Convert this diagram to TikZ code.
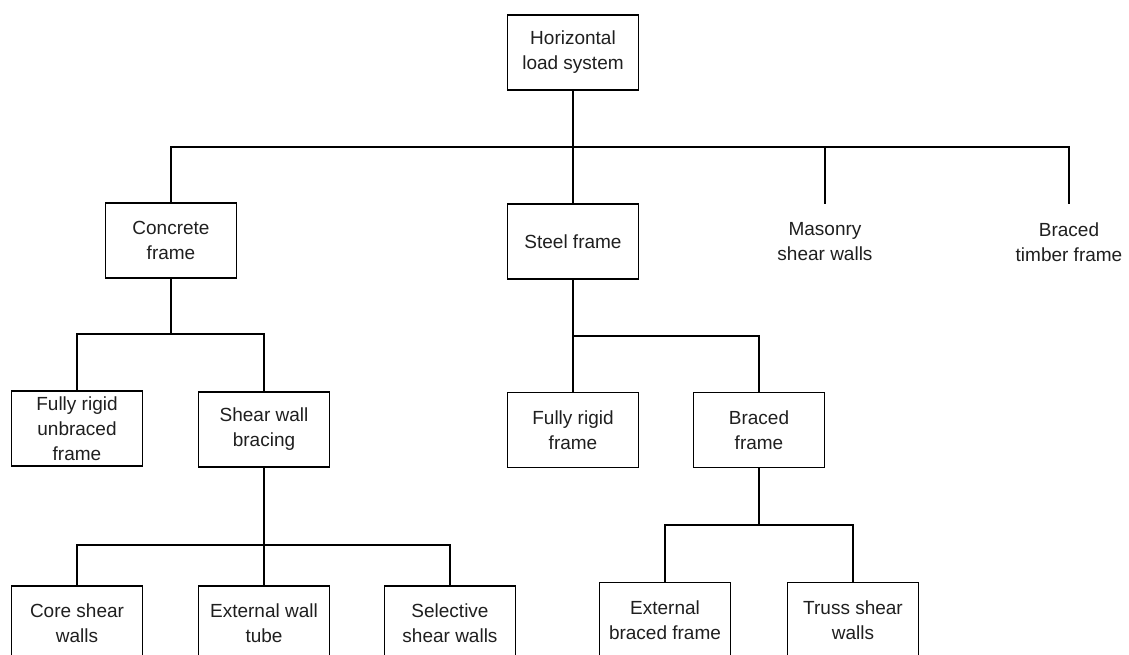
\documentclass[tikz,border=0pt]{standalone}
\usepackage{fontspec}
\setmainfont{Liberation Sans}
\begin{document}
\begin{tikzpicture}[x=1pt,y=-1pt,
  box/.style={draw, line width=1.7pt, minimum width=131pt, minimum height=75pt,
    inner sep=0pt, align=center, text=black!88,
    font=\fontsize{19}{25}\selectfont},
  plain/.style={box, draw=none},
  link/.style={line width=1.7pt}]
\useasboundingbox (0,0) rectangle (1129,654);
\fill[white] (0,0) rectangle (1129,654);
\clip (0,0) rectangle (1129,654);

% level 0
\node[box] (top) at (573,52.5) {Horizontal\\load system};

% level 1
\node[box] (concrete) at (171,240.5) {Concrete\\frame};
\node[box] (steel) at (573,241.5) {Steel frame};
\node[plain] (masonry) at (825,242) {Masonry\\shear walls};
\node[plain] (timber) at (1069,242) {Braced\\timber frame};

% level 2
\node[box] (fru) at (77,428.5) {Fully rigid\\unbraced\\frame};
\node[box] (swb) at (264,429.5) {Shear wall\\bracing};
\node[box] (frf) at (573,430) {Fully rigid\\frame};
\node[box] (bf) at (759,430) {Braced\\frame};

% level 3
\node[box] (core) at (77,623.5) {Core shear\\walls};
\node[box] (ewt) at (264,623.5) {External wall\\tube};
\node[box] (sel) at (450,623.5) {Selective\\shear walls};
\node[box] (ebf) at (665,620) {External\\braced frame};
\node[box] (truss) at (853,620) {Truss shear\\walls};

% bus junctions
\coordinate (b1) at (573,147);
\coordinate (b2) at (171,334);
\coordinate (b3) at (573,336);
\coordinate (b4) at (264,545);
\coordinate (b5) at (759,525);

% connectors
\draw[link] (top.south) -- (b1);
\draw[link] (concrete.north) |- (b1) -| (timber.north);
\draw[link] (b1) -- (steel.north);
\draw[link] (masonry.north |- b1) -- (masonry.north);

\draw[link] (concrete.south) -- (b2);
\draw[link] (fru.north) |- (b2) -| (swb.north);

\draw[link] (steel.south) -- (b3) -| (bf.north);
\draw[link] (b3) -- (frf.north);

\draw[link] (swb.south) -- (b4);
\draw[link] (core.north) |- (b4) -| (sel.north);
\draw[link] (b4) -- (ewt.north);

\draw[link] (bf.south) -- (b5);
\draw[link] (ebf.north) |- (b5) -| (truss.north);
\end{tikzpicture}
\end{document}
